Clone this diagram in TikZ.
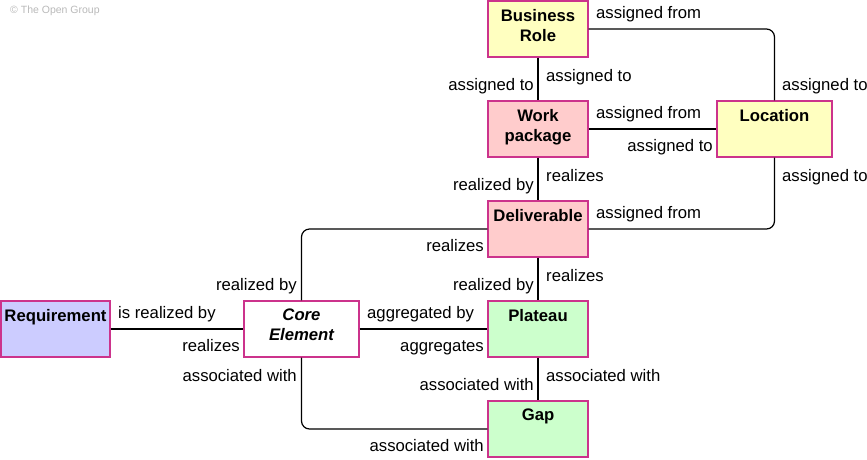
\documentclass[tikz,border=0pt]{standalone}
\usepackage{fontspec}
\setmainfont{Liberation Sans}
\definecolor{bord}{RGB}{204,51,140}
\definecolor{yel}{RGB}{255,255,192}
\definecolor{pnk}{RGB}{255,204,204}
\definecolor{grn}{RGB}{204,255,204}
\definecolor{lav}{RGB}{204,204,255}
\definecolor{copy}{RGB}{185,185,185}
\tikzset{
  box/.style={draw=bord, line width=1.3pt, rectangle, minimum height=56pt, inner sep=0pt},
  title/.style={anchor=north, inner sep=0pt, align=center, font=\fontsize{16.7}{20}\selectfont\bfseries},
  lab/.style={inner sep=0pt, font=\fontsize{16.7}{20}\selectfont},
  labl/.style={lab, anchor=base west},
  labr/.style={lab, anchor=base east},
  conn/.style={draw=black, line width=1.2pt, rounded corners=8pt},
}
\begin{document}
\begin{tikzpicture}[x=1pt,y=-1pt]
\useasboundingbox (0,0) rectangle (867,459);
\node[anchor=west, inner sep=0pt, text=copy, font=\fontsize{10.5}{12}\selectfont] (cp) at (10,11) {© The Open Group};

% boxes
\node[box, fill=yel, minimum width=100pt] (br) at (538,29) {};
\node[box, fill=pnk, minimum width=100pt] (wp) at (538,129) {};
\node[box, fill=yel, minimum width=115pt] (loc) at (774.5,129) {};
\node[box, fill=pnk, minimum width=100pt] (del) at (538,229) {};
\node[box, fill=grn, minimum width=100pt] (pla) at (538,329) {};
\node[box, fill=grn, minimum width=100pt] (gap) at (538,429) {};
\node[box, fill=white, minimum width=115pt] (core) at (301.5,329) {};
\node[box, fill=lav, minimum width=109pt] (req) at (55.5,329) {};

% connectors
\draw[conn] (br.east) -| (loc.north);
\draw[conn] (br.south) -- (wp.north);
\draw[conn] (wp.east) -- (loc.west);
\draw[conn] (wp.south) -- (del.north);
\draw[conn] (loc.south) |- (del.east);
\draw[conn] (del.west) -| (core.north);
\draw[conn] (del.south) -- (pla.north);
\draw[conn] (req.east) -- (core.west);
\draw[conn] (core.east) -- (pla.west);
\draw[conn] (pla.south) -- (gap.north);
\draw[conn] (core.south) |- (gap.west);

% titles
\node[title] (brt) at (538,9) {Business\\Role};
\node[title] (wpt) at (538,109) {Work\\package};
\node[title] (loct) at (774.5,109) {Location};
\node[title] (delt) at (538,209) {Deliverable};
\node[title] (plat) at (538,309) {Plateau};
\node[title] (gapt) at (538,409) {Gap};
\node[title, font=\fontsize{16.7}{20}\selectfont\bfseries\itshape] (coret) at (301.5,309) {Core\\Element};
\node[title] (reqt) at (55.5,309) {Requirement};

% labels
\node[labl] (l1) at (596,18) {assigned from};
\node[labl] (l2) at (782,90) {assigned to};
\node[labr] (l3) at (534,90) {assigned to};
\node[labl] (l4) at (546,81) {assigned to};
\node[labl] (l5) at (596,118) {assigned from};
\node[labr] (l6) at (713,151) {assigned to};
\node[labr] (l7) at (534,190) {realized by};
\node[labl] (l8) at (546,181) {realizes};
\node[labl] (l9) at (782,181) {assigned to};
\node[labl] (l10) at (596,218) {assigned from};
\node[labr] (l11) at (484,251) {realizes};
\node[labr] (l12) at (297,290) {realized by};
\node[labr] (l13) at (534,290) {realized by};
\node[labl] (l14) at (546,281) {realizes};
\node[labl] (l15) at (118,318) {is realized by};
\node[labr] (l16) at (240,351) {realizes};
\node[labl] (l17) at (367,318) {aggregated by};
\node[labr] (l18) at (484,351) {aggregates};
\node[labr] (l19) at (297,381) {associated with};
\node[labr] (l20) at (534,390) {associated with};
\node[labl] (l21) at (546,381) {associated with};
\node[labr] (l22) at (484,451) {associated with};
\end{tikzpicture}
\end{document}
